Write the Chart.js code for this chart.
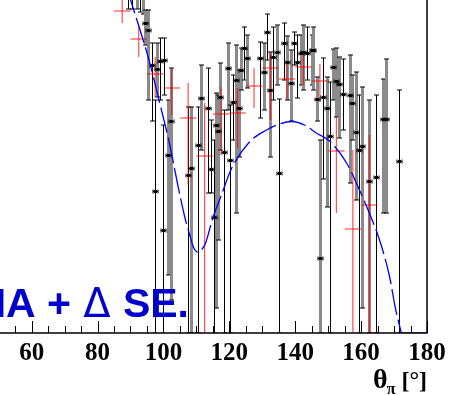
<!DOCTYPE html>
<html>
<head>
<meta charset="utf-8">
<script src="https://cdn.jsdelivr.net/npm/chart.js@4/dist/chart.umd.min.js"></script>
<style>
  html, body { margin: 0; padding: 0; background: #fff; }
</style>
</head>
<body>
<canvas id="chart" width="451" height="395"></canvas>
<script>
// pion angle (deg) and cross section points, thin black / thick grey bars
const thetaPts = [89.4, 90.6, 92.1, 93.0, 93.9, 94.4, 95.4, 96.4, 97.3, 98.2, 99.1, 99.8, 100.3, 101.5, 102.4,
  107.6, 108.4, 110.4, 111.4, 113.4, 114.5, 115.2, 115.9, 116.5, 117.3, 118.3, 119.5, 120.3, 121.1, 122.0,
  122.9, 123.6, 124.6, 125.4, 129.4, 130.4, 131.4, 132.4, 133.4, 134.4, 135.2, 136.5, 137.6, 138.6, 139.6,
  140.6, 141.8, 142.5, 143.5, 145.0, 145.5, 146.5, 147.4, 148.4, 149.6, 150.6, 151.6, 152.4, 153.4, 154.4,
  156.5, 157.3, 158.5, 159.3, 160.3, 162.5, 164.6, 166.6, 167.6, 171.4];
const yPts = [3.58, 3.48, 3.43, 3.41, 3.38, 3.10, 3.03, 2.68, 1.42, 2.64, 2.72, 1.03, 2.73, 1.78, 2.12,
  1.58, 1.65, 1.88, 2.35, 2.25, 1.64, 1.16, 2.08, 2.02, 2.36, 1.81, 2.65, 1.73, 2.31, 2.53,
  2.25, 2.63, 2.85, 2.75, 2.75, 2.61, 3.01, 2.43, 2.76, 2.81, 1.60, 2.90, 2.71, 2.50, 2.90,
  2.71, 2.80, 2.81, 2.80, 2.83, 2.83, 2.34, 0.75, 2.36, 2.25, 1.97, 2.66, 2.52, 2.49, 2.39,
  2.38, 2.30, 2.01, 1.83, 1.87, 1.52, 1.56, 2.14, 2.14, 1.72];
const yPtsUp = [3.93, 3.83, 3.78, 3.73, 3.68, 3.23, 3.23, 2.90, 2.33, 2.90, 2.95, 2.08, 2.95, 2.33, 2.65,
  2.26, 2.26, 2.26, 2.68, 2.65, 2.13, 1.93, 2.40, 2.38, 2.70, 2.23, 2.90, 2.28, 2.58, 2.88,
  2.63, 2.85, 3.06, 2.98, 2.91, 2.90, 3.19, 2.81, 3.06, 3.08, 2.34, 3.10, 2.97, 2.83, 3.01,
  2.98, 2.98, 3.08, 3.06, 2.98, 3.06, 2.56, 1.93, 2.75, 2.56, 2.51, 2.84, 2.85, 2.76, 2.74,
  2.78, 2.58, 2.61, 2.38, 2.46, 2.33, 2.38, 2.54, 2.74, 2.43];
const yPtsDown = [3.24, 3.24, 3.24, 3.21, 3.19, 2.88, 2.33, 2.12, 0, 2.36, 2.33, 0, 2.38, 0.58, 0.33,
  0, 0, 0, 1.83, 1.40, 1.40, 0, 0.25, 0.93, 1.83, 0, 2.23, 0, 1.93, 1.20,
  1.76, 2.43, 2.53, 2.45, 2.15, 2.23, 2.73, 1.76, 2.33, 2.48, 0, 2.53, 2.33, 2.12, 2.68,
  2.35, 2.48, 2.43, 2.53, 2.48, 2.43, 2.12, 0, 1.54, 1.26, 0, 2.33, 2.16, 1.95, 2.03,
  1.50, 1.93, 1.33, 0, 0.25, 0, 0, 1.20, 1.20, 0];
const ptsGrey = [0, 0, 1, 0, 1, 1, 1, 0, 0, 1, 0, 0, 0, 1, 1,
  0, 1, 0, 1, 0, 0, 0, 1, 1, 1, 0, 1, 0, 0, 1,
  1, 1, 0, 1, 0, 1, 0, 1, 0, 1, 0, 0, 1, 1, 0,
  0, 1, 1, 0, 1, 1, 1, 1, 0, 1, 0, 1, 1, 1, 0,
  1, 1, 1, 0, 1, 1, 0, 1, 1, 0];

// red points: 5 degree bins
const thetaRed = [87.5, 92.5, 97.5, 102.5, 107.5, 112.5, 117.5, 122.5, 127.5, 132.5, 137.5, 142.5, 147.5, 152.5, 157.5, 162.5];
const yRed   = [3.22, 2.94, 2.59, 2.45, 2.15, 1.77, 2.19, 2.20, 2.47, 2.65, 2.54, 2.66, 2.52, 1.82, 1.04, 1.28];
const yRedUp = [3.38, 3.08, 2.76, 2.65, 2.50, 2.30, 2.46, 2.45, 2.65, 2.81, 2.71, 2.81, 2.69, 2.16, 1.83, 1.98];
const yRedDn = [3.10, 2.76, 2.36, 2.18, 1.48, 0, 1.78, 1.85, 2.25, 2.13, 2.33, 2.48, 2.31, 1.20, 0, 0];
const redHalfBin = 2.5;

// model curve
const thetaModel = [87.0, 89.0, 90.8, 93.0, 95.7, 98.8, 101.8, 104.3, 106.4, 107.9, 109.1, 110.3, 111.5, 112.8,
  114.9, 117.6, 120.6, 126.1, 131.3, 135.2, 138.9, 142.8, 146.4, 150.4, 155.6, 159.5, 162.5, 165.6, 168.6, 170.4, 172.2];
const yModel = [3.75, 3.45, 3.25, 3.02, 2.72, 2.31, 1.90, 1.49, 1.17, 0.99, 0.86, 0.81, 0.83, 0.90,
  1.14, 1.38, 1.64, 1.91, 2.03, 2.09, 2.115, 2.08, 2.00, 1.92, 1.70, 1.43, 1.20, 0.93, 0.57, 0.25, 0];
const thetaTail = [172.2, 180];
const yTail = [0, 0];

const tickValues = [60, 80, 100, 120, 140, 160, 180];

function seg(ctx, x1, y1, x2, y2) {
  ctx.beginPath();
  ctx.moveTo(x1, y1);
  ctx.lineTo(x2, y2);
  ctx.stroke();
}

const errorBars = {
  id: 'errorBars',
  beforeDatasetsDraw(chart) {
    const { ctx, chartArea: a, scales: { x, y } } = chart;
    ctx.save();
    ctx.beginPath();
    ctx.rect(a.left, a.top, a.right - a.left, a.bottom - a.top);
    ctx.clip();

    thetaPts.forEach((t, i) => {
      const px = Math.round(x.getPixelForValue(t)) + 0.5;
      const top = y.getPixelForValue(yPtsUp[i]);
      const bot = y.getPixelForValue(yPtsDown[i]);
      ctx.strokeStyle = ptsGrey[i] ? '#8a8a8a' : '#000';
      ctx.lineWidth = ptsGrey[i] ? 3 : 1;
      seg(ctx, px, top, px, bot);
      ctx.strokeStyle = '#000';
      ctx.lineWidth = 1;
      seg(ctx, px - 2.5, top, px + 2.5, top);
      seg(ctx, px - 2.5, bot, px + 2.5, bot);
    });

    // red crosses
    ctx.strokeStyle = 'rgba(255,0,0,0.7)';
    ctx.lineWidth = 1.2;
    thetaRed.forEach((t, i) => {
      const px = x.getPixelForValue(t);
      const py = y.getPixelForValue(yRed[i]);
      seg(ctx, px, y.getPixelForValue(yRedUp[i]), px, y.getPixelForValue(yRedDn[i]));
      seg(ctx, x.getPixelForValue(t - redHalfBin), py, x.getPixelForValue(t + redHalfBin), py);
    });

    // point markers
    ctx.strokeStyle = '#000';
    ctx.fillStyle = '#000';
    ctx.lineWidth = 1;
    thetaPts.forEach((t, i) => {
      const px = Math.round(x.getPixelForValue(t)) + 0.5;
      const py = Math.round(y.getPixelForValue(yPts[i])) + 0.5;
      seg(ctx, px - 2.5, py, px + 2.5, py);
      seg(ctx, px - 2.5, py - 2, px - 2.5, py + 2);
      seg(ctx, px + 2.5, py - 2, px + 2.5, py + 2);
      ctx.fillRect(px - 1.5, py - 1.5, 3, 3);
    });
    ctx.restore();
  },
  afterDatasetsDraw(chart) {
    const { ctx, chartArea: a, scales: { x } } = chart;
    ctx.save();
    // frame: bottom axis and right edge
    ctx.strokeStyle = '#000';
    ctx.lineWidth = 1.5;
    ctx.beginPath();
    ctx.moveTo(a.left, a.bottom);
    ctx.lineTo(a.right, a.bottom);
    ctx.lineTo(a.right, a.top);
    ctx.stroke();

    // inward ticks every 5 deg, longer at labelled values
    ctx.lineWidth = 1;
    for (let v = 55; v <= 180; v += 5) {
      const px = Math.round(x.getPixelForValue(v)) + 0.5;
      const len = v % 20 === 0 ? 12 : 7;
      seg(ctx, px, a.bottom, px, a.bottom - len);
    }

    // tick labels under the axis
    ctx.fillStyle = '#000';
    ctx.font = 'bold 25px "Liberation Serif", serif';
    ctx.textAlign = 'center';
    ctx.textBaseline = 'alphabetic';
    tickValues.forEach(v => ctx.fillText(String(v), x.getPixelForValue(v), a.bottom + 27));

    // overlay label, the delta drawn as an open triangle glyph
    ctx.fillStyle = '#0000cc';
    ctx.textAlign = 'right';
    ctx.font = 'bold 41px "Liberation Sans", Arial, sans-serif';
    ctx.fillText('SE.', 189, 317);
    ctx.fillText('IA +', 71, 317);
    ctx.font = '40px "DejaVu Sans", sans-serif';
    ctx.textAlign = 'center';
    ctx.fillText('\u0394', 97, 317);

    // axis title θπ [°]
    ctx.fillStyle = '#000';
    ctx.textAlign = 'left';
    ctx.font = 'bold 24px "Liberation Serif", serif';
    const tail = ' [\u00b0]';
    const wTail = ctx.measureText(tail).width;
    const xTail = a.right - wTail;
    ctx.fillText(tail, xTail, 388);
    ctx.font = 'bold 16px "Liberation Serif", serif';
    const wPi = ctx.measureText('\u03c0').width;
    ctx.fillText('\u03c0', xTail - wPi, 394);
    ctx.font = 'bold 28px "Liberation Serif", serif';
    const wTh = ctx.measureText('\u03b8').width;
    ctx.fillText('\u03b8', xTail - wPi - wTh + 1, 388);
    ctx.restore();
  }
};

const ctx = document.getElementById('chart');

new Chart(ctx, {
  type: 'scatter',
  data: {
    datasets: [
      {
        type: 'line',
        data: thetaModel.map((t, i) => ({ x: t, y: yModel[i] })),
        borderColor: '#0000ff',
        borderWidth: 1.3,
        borderDash: [26, 5],
        pointRadius: 0,
        cubicInterpolationMode: 'monotone',
        fill: false
      },
      {
        type: 'line',
        data: thetaTail.map((t, i) => ({ x: t, y: yTail[i] })),
        borderColor: '#0000ff',
        borderWidth: 1.3,
        pointRadius: 0,
        fill: false
      }
    ]
  },
  options: {
    responsive: false,
    animation: false,
    layout: { padding: { left: 0, right: 24, top: 0, bottom: 62 } },
    plugins: {
      legend: { display: false },
      tooltip: { enabled: false }
    },
    scales: {
      x: {
        type: 'linear',
        min: 50.4,
        max: 180,
        afterBuildTicks: (scale) => { scale.ticks = tickValues.map(v => ({ value: v })); },
        grid: { display: false, drawTicks: false },
        border: { display: false },
        ticks: { display: false }
      },
      y: { display: false, min: 0, max: 3.33 }
    }
  },
  plugins: [errorBars]
});
</script>
</body>
</html>
